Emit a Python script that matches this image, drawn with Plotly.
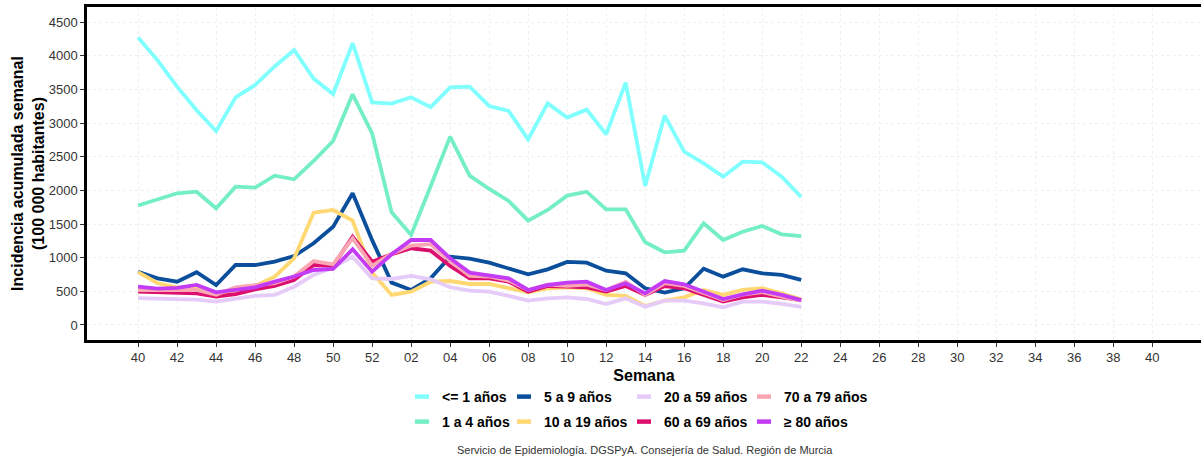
import plotly.graph_objects as go

# ---- data ----
week_labels = [str(w) for w in range(40, 53)] + [f"{w:02d}" for w in range(1, 41)]

series_names = ["<= 1 años", "1 a 4 años", "5 a 9 años", "10 a 19 años",
                "20 a 59 años", "60 a 69 años", "70 a 79 años", "≥ 80 años"]

le1 = [4270, 3930, 3540, 3190, 2880, 3380, 3565, 3840, 4085, 3660, 3430, 4185, 3307,
       3287, 3382, 3235, 3529, 3540, 3253, 3178, 2758, 3292, 3080, 3198, 2833, 3600,
       2065, 3110, 2574, 2401, 2203, 2426, 2416, 2203, 1900]
a1_4 = [1775, 1871, 1956, 1980, 1733, 2054, 2040, 2218, 2164, 2436, 2733, 3426, 2847,
        1673, 1337, 2060, 2797, 2218, 2020, 1842, 1549, 1708, 1921, 1980, 1718, 1718,
        1228, 1080, 1104, 1510, 1262, 1386, 1470, 1347, 1320]
a5_9 = [790, 693, 643, 783, 594, 891, 891, 941, 1025, 1213, 1460, 1956, 1260,
        629, 520, 693, 1015, 985, 926, 842, 753, 827, 936, 926, 807, 768,
        545, 480, 545, 837, 718, 827, 768, 743, 670]
a10_19 = [785, 620, 560, 545, 421, 520, 579, 718, 990, 1668, 1708, 1549, 780,
          446, 495, 643, 653, 609, 609, 545, 485, 545, 560, 545, 446, 431,
          282, 361, 411, 520, 446, 520, 545, 470, 380]
a20_59 = [400, 395, 381, 378, 347, 396, 431, 446, 569, 743, 857, 1015, 693,
          683, 728, 678, 560, 510, 495, 431, 361, 396, 411, 386, 312, 396,
          272, 361, 361, 322, 262, 347, 347, 312, 270]
a60_69 = [495, 490, 480, 470, 421, 460, 530, 580, 668, 891, 880, 1312, 940,
          1050, 1139, 1104, 876, 693, 693, 643, 495, 579, 569, 560, 495, 579,
          446, 579, 545, 446, 347, 411, 446, 411, 370]
a70_79 = [520, 520, 510, 520, 450, 560, 590, 620, 720, 950, 900, 1290, 880,
          1060, 1180, 1200, 950, 730, 720, 660, 520, 600, 580, 600, 520, 640,
          450, 620, 580, 480, 370, 450, 490, 420, 360]
a80 = [569, 540, 550, 594, 485, 520, 560, 643, 720, 817, 832, 1124, 792,
       1050, 1262, 1262, 990, 778, 733, 693, 520, 594, 629, 643, 520, 619,
       470, 653, 604, 495, 386, 456, 510, 446, 370]

series_values = [le1, a1_4, a5_9, a10_19, a20_59, a60_69, a70_79, a80]
colors = ["#80FFFF", "#74EEC3", "#0B4F9C", "#FFD872",
          "#E6CBF8", "#DC0F6E", "#FAA7B3", "#C33BF5"]

y_ticks = [0, 500, 1000, 1500, 2000, 2500, 3000, 3500, 4000, 4500]

# ---- figure ----
FONT = "Arial, Liberation Sans, Helvetica, sans-serif"
W, H = 1201, 457
ML, MR, MT, MB = 87, 0, 7, 117
PW, PH = W - ML - MR, H - MT - MB

fig = go.Figure()
for name, vals, col in zip(series_names, series_values, colors):
    fig.add_trace(go.Scatter(
        x=list(range(len(vals))), y=vals, mode="lines", name=name,
        line=dict(color=col, width=3.8), showlegend=False, hoverinfo="x+y+name"))

# legend layout (4 columns x 2 rows, filled by column like ggplot)
text_x = [442, 544, 664, 784]
row_y = [397, 422]


def px_to_paper_x(px):
    return (px - ML) / PW


def py_to_paper_y(py):
    return (H - MB - py) / PH


legends = {}
for i, (name, col) in enumerate(zip(series_names, colors)):
    c, r = divmod(i, 2)
    key = "legend" if i == 0 else f"legend{i + 1}"
    fig.add_trace(go.Scatter(
        x=[None], y=[None], mode="markers", name=name, legend=key,
        marker=dict(symbol="line-ew", size=10, line=dict(width=4.5, color=col)),
        showlegend=True))
    legends[key] = dict(
        x=px_to_paper_x(text_x[c] - 40), xanchor="left",
        y=py_to_paper_y(row_y[r]), yanchor="middle",
        orientation="v", bgcolor="rgba(0,0,0,0)", borderwidth=0,
        font=dict(family=FONT, size=14, color="#000000", weight="bold"),
        itemwidth=30)

fig.update_layout(**legends)

fig.update_layout(
    width=W, height=H,
    margin=dict(l=ML, r=MR, t=MT, b=MB, pad=0, autoexpand=False),
    paper_bgcolor="white", plot_bgcolor="white",
    font=dict(family=FONT, color="#333333"),
    xaxis=dict(
        range=[-2.62, 54.5],
        tickmode="array",
        tickvals=list(range(0, len(week_labels), 2)),
        ticktext=week_labels[::2],
        tickfont=dict(size=13, color="#333333"),
        ticks="outside", ticklen=4, tickwidth=1, tickcolor="#333333",
        showline=True, linecolor="black", linewidth=2.5, mirror=True,
        showgrid=True, gridcolor="#F0F0F0", griddash="dot", gridwidth=1,
        zeroline=False,
        title=dict(text="Semana", font=dict(size=16, color="#000000", weight="bold"),
                   standoff=6),
    ),
    yaxis=dict(
        range=[-223, 4723],
        tickmode="array", tickvals=y_ticks, ticktext=[str(v) for v in y_ticks],
        tickfont=dict(size=13, color="#333333"),
        ticks="outside", ticklen=4, tickwidth=1, tickcolor="#333333",
        showline=True, linecolor="black", linewidth=2.5, mirror=False,
        showgrid=True, gridcolor="#F0F0F0", griddash="dot", gridwidth=1,
        zeroline=False,
        title=dict(text="Incidencia acumulada semanal<br>(100 000 habitantes)",
                   font=dict(size=16, color="#000000", weight="bold"), standoff=1),
    ),
    annotations=[dict(
        text="Servicio de Epidemiología. DGSPyA. Consejería de Salud. Región de Murcia",
        xref="paper", yref="paper", x=px_to_paper_x(645), y=py_to_paper_y(450),
        xanchor="center", yanchor="middle", showarrow=False,
        font=dict(family=FONT, size=11, color="#333333"))],
)

fig.write_html("out.html",
               config={"displayModeBar": False},
               post_script="document.body.style.margin='0px';"
                           "document.body.style.overflow='hidden';")
